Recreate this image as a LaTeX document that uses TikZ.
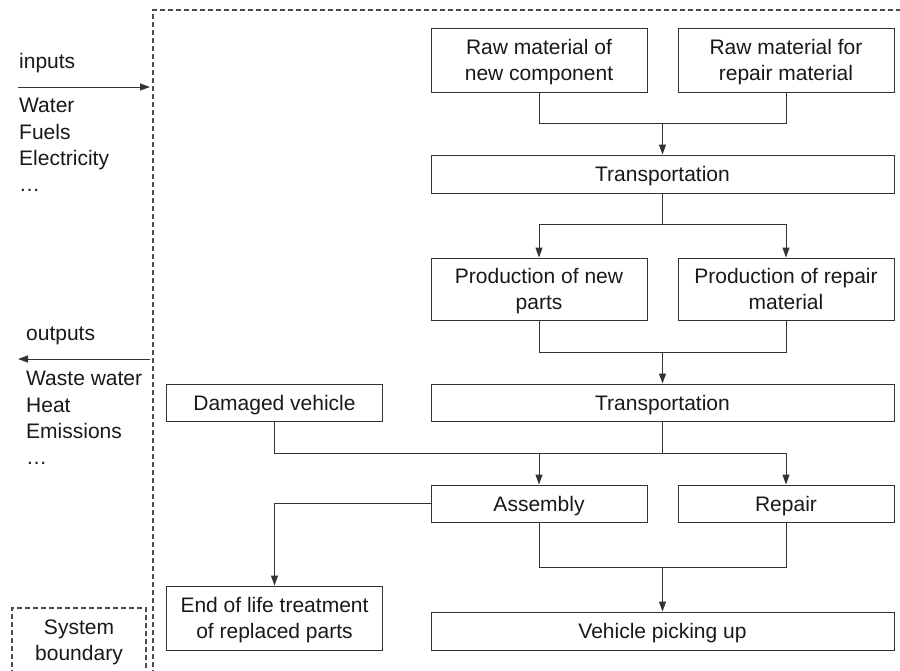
\documentclass[tikz,border=0pt]{standalone}
\usepackage{fontspec}
\setmainfont{Liberation Sans}
\usetikzlibrary{arrows.meta}
\begin{document}
\begin{tikzpicture}[x=1pt,y=-1pt,
  every node/.style={font=\fontsize{21}{26}\selectfont, text=black!90},
  box/.style={draw=black!80, line width=1pt, rectangle, inner sep=0pt, align=center, text depth=0pt},
  small/.style={box, minimum width=216pt},
  wide/.style={box, minimum width=463pt},
  conn/.style={draw=black!80, line width=1pt},
  arr/.style={conn, -{Triangle[length=10pt,width=7pt]}},
  bnd/.style={draw=black!70, line width=1.1pt, dash pattern=on 5pt off 3pt},
  lbl/.style={anchor=base west, inner sep=0pt}]
\useasboundingbox (0,0) rectangle (900,670);
\clip (0,0) rectangle (900,670);
\fill[white] (0,0) rectangle (900,670);

% system boundary
\draw[bnd] (153,675) -- (153,10) -- (905,10);
\draw[bnd] (12,675) -- (12,608) -- (146,608) -- (146,675);
\node[align=center, inner sep=0pt, text depth=0pt] (sb) at (79,640) {System\\boundary};

% inputs / outputs
\node[lbl] (in) at (19,68) {inputs};
\coordinate (inA) at (18,87);
\coordinate (inB) at (150,87);
\draw[arr] (inA) -- (inB);
\node[lbl] (w) at (19,112) {Water};
\node[lbl] (f) at (19,139) {Fuels};
\node[lbl] (e) at (19,165) {Electricity};
\node[lbl] (d1) at (19,191) {\dots};

\node[lbl] (out) at (26,340) {outputs};
\coordinate (outA) at (150,359);
\coordinate (outB) at (18,359);
\draw[arr] (outA) -- (outB);
\node[lbl] (ww) at (26,385) {Waste water};
\node[lbl] (h) at (26,412) {Heat};
\node[lbl] (em) at (26,438) {Emissions};
\node[lbl] (d2) at (26,464) {\dots};

% boxes
\node[small, minimum height=64pt] (raw1) at (539,60) {Raw material of\\new component};
\node[small, minimum height=64pt] (raw2) at (786,60) {Raw material for\\repair material};
\node[wide, minimum height=38pt] (tr1) at (662.5,174) {Transportation};
\node[small, minimum height=62pt] (prod1) at (539,289) {Production of new\\parts};
\node[small, minimum height=62pt] (prod2) at (786,289) {Production of repair\\material};
\node[small, minimum height=37pt] (dam) at (274.5,402.5) {Damaged vehicle};
\node[wide, minimum height=37pt] (tr2) at (662.5,402.5) {Transportation};
\node[small, minimum height=37pt] (asm) at (539,503.5) {Assembly};
\node[small, minimum height=37pt] (rep) at (786,503.5) {Repair};
\node[small, minimum height=64pt] (eol) at (274.5,618) {End of life treatment\\of replaced parts};
\node[wide, minimum height=38pt] (veh) at (662.5,631) {Vehicle picking up};

% connectors
\coordinate (j1) at (662.5,123);
\draw[conn] (raw1.south) |- (j1);
\draw[conn] (raw2.south) |- (j1);
\draw[arr] (j1) -- (tr1.north);

\coordinate (j2) at (662.5,224);
\draw[conn] (tr1.south) -- (j2);
\draw[arr] (j2) -| (prod1.north);
\draw[arr] (j2) -| (prod2.north);

\coordinate (j3) at (662.5,352);
\draw[conn] (prod1.south) |- (j3);
\draw[conn] (prod2.south) |- (j3);
\draw[arr] (j3) -- (tr2.north);

\coordinate (j4) at (662.5,453);
\draw[conn] (tr2.south) -- (j4);
\draw[conn] (dam.south) |- (j4);
\draw[arr] (j4) -| (rep.north);
\draw[arr] (asm.north |- j4) -- (asm.north);

\draw[arr] (asm.west) -| (eol.north);

\coordinate (j5) at (662.5,567);
\draw[conn] (asm.south) |- (j5);
\draw[conn] (rep.south) |- (j5);
\draw[arr] (j5) -- (veh.north);
\end{tikzpicture}
\end{document}
